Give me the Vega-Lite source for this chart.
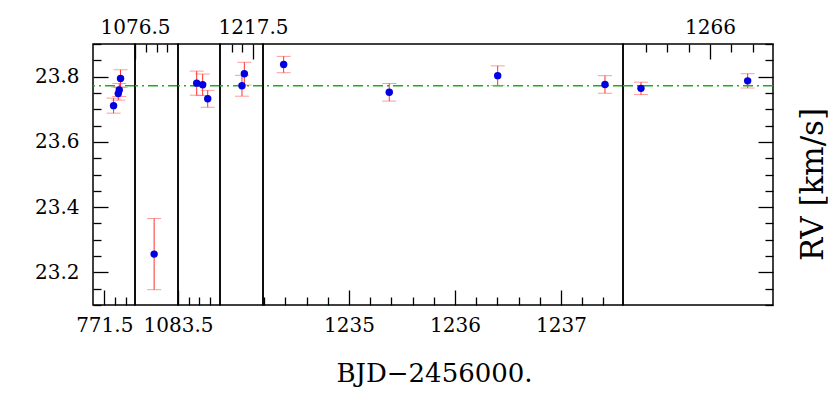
{
  "$schema": "https://vega.github.io/schema/vega-lite/v6.json",
  "autosize": {"type": "pad"},
  "padding": {"left": 33, "top": 16, "right": 0, "bottom": 0},
  "background": "white",
  "bounds": "flush",
  "spacing": 0,
  "datasets": {
    "rv": [
      {"p": 1, "t": 771.587, "rv": 23.711, "e": 0.023},
      {"p": 1, "t": 771.631, "rv": 23.748, "e": 0.020},
      {"p": 1, "t": 771.640, "rv": 23.759, "e": 0.020},
      {"p": 1, "t": 771.652, "rv": 23.794, "e": 0.027},
      {"p": 2, "t": 1076.678, "rv": 23.256, "e": 0.109},
      {"p": 3, "t": 1083.675, "rv": 23.780, "e": 0.037},
      {"p": 3, "t": 1083.731, "rv": 23.775, "e": 0.033},
      {"p": 3, "t": 1083.778, "rv": 23.732, "e": 0.026},
      {"p": 4, "t": 1217.397, "rv": 23.772, "e": 0.032},
      {"p": 4, "t": 1217.419, "rv": 23.809, "e": 0.035},
      {"p": 5, "t": 1234.384, "rv": 23.837, "e": 0.025},
      {"p": 5, "t": 1235.380, "rv": 23.752, "e": 0.027},
      {"p": 5, "t": 1236.403, "rv": 23.803, "e": 0.030},
      {"p": 5, "t": 1237.415, "rv": 23.776, "e": 0.027},
      {"p": 6, "t": 1265.355, "rv": 23.764, "e": 0.019},
      {"p": 6, "t": 1266.352, "rv": 23.787, "e": 0.022}
    ],
    "mean": [{"m": 23.772}]
  },
  "config": {
    "view": {"stroke": "black", "strokeWidth": 1.5},
    "scale": {"zero": false},
    "axis": {
      "domain": false, "grid": false,
      "labelFont": "DejaVu Serif", "labelFontSize": 20, "labelColor": "black",
      "tickColor": "black", "tickWidth": 1.3,
      "labelOverlap": false, "labelBound": false, "labelFlush": false,
      "titleFont": "DejaVu Serif", "titleFontSize": 26, "titleFontWeight": "normal", "titleColor": "black"
    }
  },
  "hconcat": [
    {
      "width": 42, "height": 261,
      "resolve": {"axis": {"x": "independent", "y": "independent"}},
      "layer": [
        {"data": {"name": "mean"}, "mark": {"type": "rule", "color": "#22aa22", "strokeWidth": 1.5, "strokeDash": [10, 4, 2, 4]},
         "encoding": {"y": {"field": "m", "type": "quantitative", "scale": {"domain": [23.1, 23.9], "nice": false}, "axis": null}}},
        {"data": {"name": "rv"}, "transform": [{"filter": "datum.p == 1"}],
         "mark": {"type": "errorbar", "ticks": {"size": 14, "color": "#ff7070", "thickness": 1}, "rule": {"color": "#ff3030", "strokeWidth": 1}},
         "encoding": {
           "x": {"field": "t", "type": "quantitative", "scale": {"domain": [771.395, 771.787], "nice": false},
             "axis": {"orient": "bottom", "title": null, "values": [771.5], "format": ".1f", "tickSize": -15, "labelPadding": 25, "labelOverlap": false}},
           "y": {"field": "rv", "type": "quantitative", "scale": {"domain": [23.1, 23.9], "nice": false},
             "axis": {"orient": "left", "title": null, "values": [23.2, 23.4, 23.6, 23.8], "format": ".1f", "tickSize": -15, "labelPadding": 29, "labelOverlap": false}},
           "yError": {"field": "e"}}},
        {"data": {"name": "rv"}, "transform": [{"filter": "datum.p == 1"}],
         "mark": {"type": "point", "filled": true, "color": "#0000e0", "opacity": 1, "size": 55},
         "encoding": {
           "x": {"field": "t", "type": "quantitative", "axis": {"orient": "bottom", "title": null, "values": [771.6, 771.7], "labels": false, "tickSize": -8}},
           "y": {"field": "rv", "type": "quantitative", "axis": {"orient": "left", "title": null, "values": [23.1, 23.15, 23.25, 23.3, 23.35, 23.45, 23.5, 23.55, 23.65, 23.7, 23.75, 23.85, 23.9], "labels": false, "tickSize": -8}}}}
      ]
    },
    {
      "width": 43, "height": 261,
      "resolve": {"axis": {"x": "independent", "y": "independent"}},
      "layer": [
        {"data": {"name": "mean"}, "mark": {"type": "rule", "color": "#22aa22", "strokeWidth": 1.5, "strokeDash": [10, 4, 2, 4]},
         "encoding": {"y": {"field": "m", "type": "quantitative", "scale": {"domain": [23.1, 23.9], "nice": false}, "axis": null}}},
        {"data": {"name": "rv"}, "transform": [{"filter": "datum.p == 2"}],
         "mark": {"type": "errorbar", "ticks": {"size": 14, "color": "#ff7070", "thickness": 1}, "rule": {"color": "#ff3030", "strokeWidth": 1}},
         "encoding": {
           "x": {"field": "t", "type": "quantitative", "scale": {"domain": [1076.5, 1076.9], "nice": false},
             "axis": {"orient": "top", "title": null, "values": [1076.5], "format": ".1f", "tickSize": -15, "labelPadding": 22, "labelOverlap": false}},
           "y": {"field": "rv", "type": "quantitative", "scale": {"domain": [23.1, 23.9], "nice": false}, "axis": null},
           "yError": {"field": "e"}}},
        {"data": {"name": "rv"}, "transform": [{"filter": "datum.p == 2"}],
         "mark": {"type": "point", "filled": true, "color": "#0000e0", "opacity": 1, "size": 55},
         "encoding": {
           "x": {"field": "t", "type": "quantitative", "axis": {"orient": "top", "title": null, "values": [1076.6, 1076.7, 1076.8], "labels": false, "tickSize": -8}},
           "y": {"field": "rv", "type": "quantitative", "axis": null}}}
      ]
    },
    {
      "width": 42, "height": 261,
      "resolve": {"axis": {"x": "independent", "y": "independent"}},
      "layer": [
        {"data": {"name": "mean"}, "mark": {"type": "rule", "color": "#22aa22", "strokeWidth": 1.5, "strokeDash": [10, 4, 2, 4]},
         "encoding": {"y": {"field": "m", "type": "quantitative", "scale": {"domain": [23.1, 23.9], "nice": false}, "axis": null}}},
        {"data": {"name": "rv"}, "transform": [{"filter": "datum.p == 3"}],
         "mark": {"type": "errorbar", "ticks": {"size": 14, "color": "#ff7070", "thickness": 1}, "rule": {"color": "#ff3030", "strokeWidth": 1}},
         "encoding": {
           "x": {"field": "t", "type": "quantitative", "scale": {"domain": [1083.5, 1083.893], "nice": false},
             "axis": {"orient": "bottom", "title": null, "values": [1083.5], "format": ".1f", "tickSize": -15, "labelPadding": 25, "labelOverlap": false}},
           "y": {"field": "rv", "type": "quantitative", "scale": {"domain": [23.1, 23.9], "nice": false}, "axis": null},
           "yError": {"field": "e"}}},
        {"data": {"name": "rv"}, "transform": [{"filter": "datum.p == 3"}],
         "mark": {"type": "point", "filled": true, "color": "#0000e0", "opacity": 1, "size": 55},
         "encoding": {
           "x": {"field": "t", "type": "quantitative", "axis": {"orient": "bottom", "title": null, "values": [1083.6, 1083.7, 1083.8], "labels": false, "tickSize": -8}},
           "y": {"field": "rv", "type": "quantitative", "axis": null}}}
      ]
    },
    {
      "width": 43, "height": 261,
      "resolve": {"axis": {"x": "independent", "y": "independent"}},
      "layer": [
        {"data": {"name": "mean"}, "mark": {"type": "rule", "color": "#22aa22", "strokeWidth": 1.5, "strokeDash": [10, 4, 2, 4]},
         "encoding": {"y": {"field": "m", "type": "quantitative", "scale": {"domain": [23.1, 23.9], "nice": false}, "axis": null}}},
        {"data": {"name": "rv"}, "transform": [{"filter": "datum.p == 4"}],
         "mark": {"type": "errorbar", "ticks": {"size": 14, "color": "#ff7070", "thickness": 1}, "rule": {"color": "#ff3030", "strokeWidth": 1}},
         "encoding": {
           "x": {"field": "t", "type": "quantitative", "scale": {"domain": [1217.192, 1217.593], "nice": false},
             "axis": {"orient": "top", "title": null, "values": [1217.5], "format": ".1f", "tickSize": -15, "labelPadding": 22, "labelOverlap": false}},
           "y": {"field": "rv", "type": "quantitative", "scale": {"domain": [23.1, 23.9], "nice": false}, "axis": null},
           "yError": {"field": "e"}}},
        {"data": {"name": "rv"}, "transform": [{"filter": "datum.p == 4"}],
         "mark": {"type": "point", "filled": true, "color": "#0000e0", "opacity": 1, "size": 55},
         "encoding": {
           "x": {"field": "t", "type": "quantitative", "axis": {"orient": "top", "title": null, "values": [1217.3, 1217.4], "labels": false, "tickSize": -8}},
           "y": {"field": "rv", "type": "quantitative", "axis": null}}}
      ]
    },
    {
      "width": 360, "height": 261,
      "resolve": {"axis": {"x": "independent", "y": "independent"}},
      "layer": [
        {"data": {"name": "mean"}, "mark": {"type": "rule", "color": "#22aa22", "strokeWidth": 1.5, "strokeDash": [10, 4, 2, 4]},
         "encoding": {"y": {"field": "m", "type": "quantitative", "scale": {"domain": [23.1, 23.9], "nice": false}, "axis": null}}},
        {"data": {"name": "rv"}, "transform": [{"filter": "datum.p == 5"}],
         "mark": {"type": "errorbar", "ticks": {"size": 14, "color": "#ff7070", "thickness": 1}, "rule": {"color": "#ff3030", "strokeWidth": 1}},
         "encoding": {
           "x": {"field": "t", "type": "quantitative", "scale": {"domain": [1234.189, 1237.585], "nice": false},
             "axis": {"orient": "bottom", "title": "BJD−2456000.", "titleX": 171, "titleY": 76, "titleBaseline": "alphabetic", "titleAnchor": null,
               "values": [1235, 1236, 1237], "format": "d", "tickSize": -15, "labelPadding": 25, "labelOverlap": false}},
           "y": {"field": "rv", "type": "quantitative", "scale": {"domain": [23.1, 23.9], "nice": false}, "axis": null},
           "yError": {"field": "e"}}},
        {"data": {"name": "rv"}, "transform": [{"filter": "datum.p == 5"}],
         "mark": {"type": "point", "filled": true, "color": "#0000e0", "opacity": 1, "size": 55},
         "encoding": {
           "x": {"field": "t", "type": "quantitative", "axis": {"orient": "bottom", "title": null, "values": [1234.2, 1234.4, 1234.6, 1234.8, 1235.2, 1235.4, 1235.6, 1235.8, 1236.2, 1236.4, 1236.6, 1236.8, 1237.2, 1237.4], "labels": false, "tickSize": -8}},
           "y": {"field": "rv", "type": "quantitative", "axis": null}}}
      ]
    },
    {
      "width": 150, "height": 261,
      "resolve": {"axis": {"x": "independent", "y": "independent"}},
      "layer": [
        {"data": {"name": "mean"}, "mark": {"type": "rule", "color": "#22aa22", "strokeWidth": 1.5, "strokeDash": [10, 4, 2, 4]},
         "encoding": {"y": {"field": "m", "type": "quantitative", "scale": {"domain": [23.1, 23.9], "nice": false}, "axis": null}}},
        {"data": {"name": "rv"}, "transform": [{"filter": "datum.p == 6"}],
         "mark": {"type": "errorbar", "ticks": {"size": 14, "color": "#ff7070", "thickness": 1}, "rule": {"color": "#ff3030", "strokeWidth": 1}},
         "encoding": {
           "x": {"field": "t", "type": "quantitative", "scale": {"domain": [1265.187, 1266.589], "nice": false},
             "axis": {"orient": "top", "title": null, "values": [1266], "format": "d", "tickSize": -15, "labelPadding": 22, "labelOverlap": false}},
           "y": {"field": "rv", "type": "quantitative", "scale": {"domain": [23.1, 23.9], "nice": false},
             "axis": {"orient": "right", "title": "RV [km/s]", "titleFontSize": 31, "titleAngle": -90, "titleX": 40, "titleY": 140, "titleBaseline": "middle", "titleAlign": "center", "titleAnchor": null,
               "values": [23.2, 23.4, 23.6, 23.8], "labels": false, "tickSize": -15}},
           "yError": {"field": "e"}}},
        {"data": {"name": "rv"}, "transform": [{"filter": "datum.p == 6"}],
         "mark": {"type": "point", "filled": true, "color": "#0000e0", "opacity": 1, "size": 55},
         "encoding": {
           "x": {"field": "t", "type": "quantitative", "axis": {"orient": "top", "title": null, "values": [1265.4, 1265.6, 1265.8, 1266.2, 1266.4], "labels": false, "tickSize": -8}},
           "y": {"field": "rv", "type": "quantitative", "axis": {"orient": "right", "title": null, "values": [23.1, 23.15, 23.25, 23.3, 23.35, 23.45, 23.5, 23.55, 23.65, 23.7, 23.75, 23.85, 23.9], "labels": false, "tickSize": -8}}}}
      ]
    }
  ]
}
